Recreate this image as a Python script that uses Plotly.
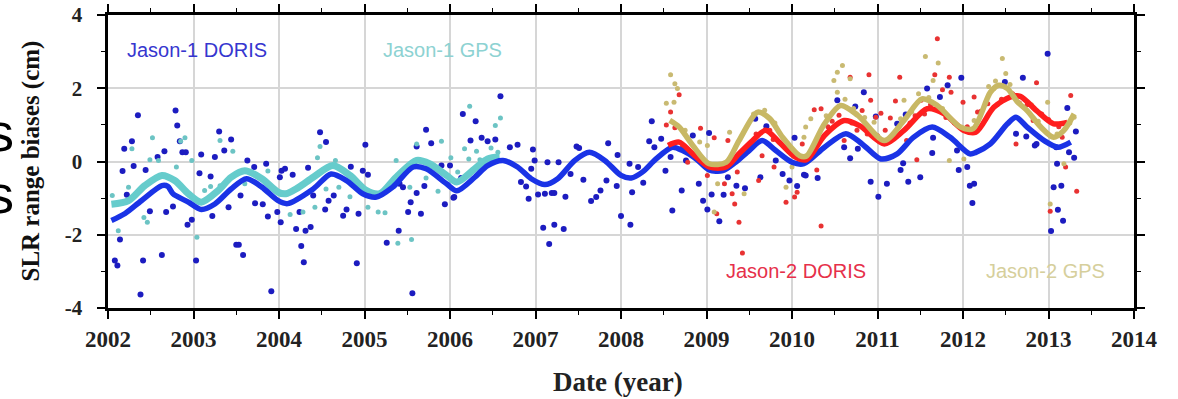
import plotly.graph_objects as go

# ---------------- data ----------------
j1d_x = [2002.35,2002.79,2002.81,2002.28,2002.19,2002.17,2002.30,2002.44,2002.58,2002.66,2002.84,2002.87,2002.91,
         2003.09,2003.07,2003.20,2003.30,2003.44,2003.36,2003.25,2003.63,2003.71,2003.85,2004.03,2002.22,2002.49,
         2002.68,2002.76,2002.93,2002.98,2003.22,2003.41,2003.55,2003.72,2003.81,2003.87,2003.98,2004.02,2002.14,
         2002.08,2002.11,2002.41,2002.63,2003.03,2003.50,2003.53,2003.58,2002.38,2003.91,
         2004.48,2004.55,2005.01,2005.72,2005.61,2005.78,2004.07,2004.01,2004.16,2004.34,2004.84,2004.98,2005.04,
         2004.64,2004.58,2004.54,2004.40,2004.75,2004.79,2004.93,2004.24,2004.20,2004.31,2004.37,2004.26,2004.29,
         2004.91,2005.26,2005.40,2005.56,2005.51,2005.66,2005.54,2005.61,2005.70,2005.94,2006.04,2005.90,2006.00,
         2005.41,2005.45,
         2006.59,2006.15,2006.30,2006.24,2006.37,2006.44,2006.53,2006.70,2006.79,2006.97,2006.99,2007.14,2007.27,
         2006.95,2006.83,2006.89,2006.92,2007.03,2007.11,2007.19,2007.22,2007.35,2007.09,2007.22,2007.33,2007.16,
         2007.48,2007.51,2007.41,2007.56,2007.65,2007.71,2007.76,2007.83,2007.85,2007.96,2008.10,2007.95,2008.00,
         2008.11,2008.13,2006.13,2006.05,
         2008.36,2008.33,2008.39,2008.47,2008.52,2008.20,2008.26,2008.60,2008.71,2008.84,2009.03,2008.91,2008.96,
         2009.01,2009.06,2009.15,2009.20,2009.25,2009.35,2009.45,2009.57,2009.70,2009.63,2009.89,2009.97,2010.06,
         2010.03,2010.16,2008.76,2008.58,2009.81,
         2010.53,2010.84,2010.74,2010.98,2011.23,2011.33,2011.58,2011.82,2011.98,2011.73,2010.61,2010.68,2010.77,
         2010.14,2010.30,2010.92,2011.01,2011.11,2011.27,2011.30,2011.36,2011.50,2011.64,2011.65,2011.95,2012.05,
         2012.08,2012.11,2011.93,
         2012.99,2012.70,2012.49,2013.22,2013.32,2012.62,2012.74,2012.84,2013.09,2013.24,2013.30,2013.10,2013.06,
         2013.15,2013.11,2013.17,2013.03,2012.13,2012.86]
j1d_y = [1.26,1.39,0.98,0.55,0.35,-0.26,-0.12,-0.23,0.12,0.28,0.55,0.25,0.25,
         0.19,-0.32,-0.41,0.82,0.60,0.30,0.12,0.03,-0.15,-0.06,-0.25,-0.91,-1.36,
         -1.38,-1.23,-1.73,-1.59,-1.49,-1.25,-0.93,-1.14,-1.17,-1.50,-1.38,-1.66,-2.13,
         -2.70,-2.84,-2.70,-2.55,-2.70,-2.27,-2.27,-2.55,-3.63,-3.54,
         0.80,0.53,0.46,0.87,0.41,0.50,-0.20,-0.43,-0.36,-0.17,-0.14,-0.25,-0.36,
         -0.93,-1.07,-1.31,-0.93,-1.48,-1.31,-1.43,-1.38,-1.84,-1.89,-1.79,-2.31,-2.75,
         -2.78,-2.22,-1.89,-3.60,-1.38,-1.43,-1.11,-0.86,-0.67,-1.17,-0.99,-0.11,-0.11,
         -0.61,-0.70,
         1.78,1.30,1.10,0.57,0.65,0.55,0.60,0.39,0.46,0.33,0.03,-0.02,-0.02,
         -0.20,-0.56,-0.68,-1.02,-0.90,-0.88,-0.86,-0.86,-0.96,-1.81,-1.73,-1.84,-2.25,
         0.41,0.37,-0.34,-0.50,-1.08,-0.97,-0.79,-0.52,0.50,0.18,-0.06,-0.67,-1.49,
         -1.73,-0.84,-0.45,-0.97,
         1.10,0.55,0.39,0.62,-0.25,-0.15,-0.58,-1.34,-0.79,0.71,0.78,-0.61,-1.07,
         -1.31,-0.90,-1.63,-0.91,-0.43,-0.66,-0.73,1.17,0.96,-0.43,-0.34,-0.52,-0.67,
         0.65,-0.38,0.03,0.12,0.03,
         1.67,1.89,1.50,1.23,1.03,1.28,1.99,2.08,2.29,1.76,0.39,0.09,0.35,
         -0.36,-0.45,-0.55,-0.96,-0.61,-0.23,-0.05,-0.55,-0.43,0.23,0.65,-0.23,-0.15,
         -0.66,-1.13,0.30,
         2.94,2.29,2.17,1.46,0.82,0.76,0.68,0.44,0.39,0.25,0.10,-0.06,-0.70,
         -0.66,-1.32,-1.62,-1.90,-0.61,0.48]

j1g_x = [2002.52,2002.28,2002.49,2002.59,2002.80,2002.90,2002.85,2002.98,2003.46,2003.31,2002.24,2002.42,2002.46,
         2002.12,2003.04,2003.13,2003.20,2003.31,2003.60,2003.87,2002.05,2004.48,2004.45,2004.66,2005.37,2005.61,
         2005.90,2006.01,2004.55,2004.70,2004.83,2004.42,2004.28,2004.13,2005.04,2005.16,2005.24,2005.39,2005.55,
         2005.72,2005.86,2005.53,2006.23,2006.59,2006.53,2006.17,2006.31,2006.22,2006.48,2006.35,2006.09,2006.56]
j1g_y = [0.65,0.35,0.05,0.03,-0.15,0.65,0.55,0.03,0.28,0.57,-0.70,-1.53,-1.66,
         -1.89,-2.07,-0.79,-0.68,-0.66,-0.61,-0.26,-0.93,0.41,0.10,0.03,0.03,0.48,
         0.55,0.10,-0.75,-0.70,-0.96,-1.25,-1.38,-1.45,-1.25,-1.38,-1.40,-2.23,-2.13,
         -0.45,-0.81,-0.70,1.51,1.19,0.98,0.35,0.28,0.07,0.37,0.05,-0.29,0.25]

j2d_x = [2008.68,2008.58,2008.53,2008.63,2008.93,2009.09,2009.25,2008.78,2009.01,2009.21,2009.30,2009.33,2009.12,
         2009.38,2009.42,2009.36,2009.65,2009.61,2009.79,2009.93,2010.03,2010.06,2010.12,2009.74,2011.70,2010.90,
         2010.68,2011.26,2011.67,2011.84,2010.92,2011.21,2010.82,2010.98,2011.15,2010.26,2010.34,2010.55,2011.51,
         2011.86,2012.00,2012.13,2012.17,2010.61,2010.29,2010.34,2011.46,2011.34,2011.09,2011.04,2011.76,2012.86,
         2013.26,2012.62,2013.02,2013.33,2013.20,2012.21,2012.29,2012.82,2013.16,
         2010.42,2010.47,2010.70,2010.76,2010.88,2011.00,2011.12,2011.38,2011.44,2011.55,2011.62,2011.80,2011.90,
         2012.05,2012.40,2012.45,2012.58,2012.66,2012.75,2012.92,2013.00,2013.12,2009.50,2009.58,2008.72,2009.78]
j2d_y = [1.82,1.35,1.00,0.92,0.91,0.65,0.57,-0.02,-0.38,-0.61,-0.88,-1.16,-1.43,
         -1.66,-2.50,-0.29,0.16,-0.52,-0.15,-1.11,-0.97,-0.84,0.48,0.85,3.35,2.37,
         2.30,2.30,2.37,2.30,1.67,1.65,1.39,1.21,1.19,1.41,1.44,1.26,1.67,
         1.89,1.62,1.76,1.35,0.57,-0.23,-1.76,0.05,0.57,0.85,1.32,1.96,2.15,
         1.80,0.48,-1.36,-0.81,-0.15,1.37,1.58,1.12,0.66,
         0.95,1.10,1.05,0.85,0.75,0.70,0.55,1.05,1.25,1.30,1.55,1.20,1.05,
         0.95,1.55,1.70,1.85,1.60,1.55,1.30,1.15,0.95,0.45,0.75,0.40,0.60]

j2g_x = [2008.58,2008.63,2008.66,2008.53,2008.62,2008.92,2009.01,2009.27,2009.13,2009.09,2009.44,2010.16,2010.00,
         2009.93,2010.59,2010.53,2010.68,2010.49,2010.53,2010.22,2011.56,2011.71,2011.65,2011.31,2010.96,2011.27,
         2011.84,2012.01,2010.14,2012.13,2012.46,2012.50,2012.99,2013.02,2013.18,2013.30,2012.36,
         2010.40,2010.62,2010.72,2010.85,2011.40,2011.48,2011.60,2011.76,2012.30,2012.38,2012.55,2012.62,2012.80,
         2012.88,2013.10,2013.25,2009.55,2009.68,2009.80,2008.75]
j2g_y = [2.37,2.12,1.99,1.59,1.62,0.53,0.44,0.80,-0.61,-1.38,-0.88,0.94,-0.15,
         -0.70,2.62,2.44,2.26,2.21,1.89,1.17,2.87,2.69,2.21,1.67,1.07,1.17,
         0.03,0.07,0.66,1.12,2.81,2.40,1.62,-1.16,-0.06,1.21,1.99,
         1.25,1.70,1.45,1.20,1.35,1.85,1.75,1.45,2.05,2.20,2.10,1.80,1.55,
         1.10,0.75,1.05,1.30,1.40,1.05,0.85]

# smoothed curves
j1d_fit_x = [2002.04,2002.20,2002.39,2002.63,2002.70,2002.76,2002.94,2003.09,2003.25,2003.44,2003.62,2003.80,2003.99,
             2004.10,2004.40,2004.61,2004.79,2004.98,2005.14,2005.33,2005.57,2005.72,2005.96,2006.08,2006.29,2006.44,
             2006.62,2006.79,2006.95,2007.11,2007.26,2007.46,2007.63,2007.81,2008.00,2008.12,2008.25,2008.41,2008.60,
             2008.72,2008.88,2009.03,2009.19,2009.34,2009.50,2009.65,2009.81,2010.00,2010.14,2010.38,2010.63,2010.82,
             2011.04,2011.23,2011.42,2011.64,2011.85,2012.08,2012.15,2012.32,2012.52,2012.62,2012.75,2012.95,2013.11,2013.26]
j1d_fit_y = [-1.61,-1.42,-1.07,-0.66,-0.68,-0.88,-1.11,-1.31,-1.16,-0.75,-0.47,-0.70,-1.07,
             -1.15,-0.75,-0.34,-0.52,-0.88,-0.97,-0.70,-0.15,-0.20,-0.61,-0.80,-0.43,-0.11,
             0.03,-0.15,-0.47,-0.63,-0.47,0.03,0.25,0.03,-0.38,-0.45,-0.29,0.07,0.39,
             0.30,0.07,-0.23,-0.25,-0.02,0.30,0.57,0.30,-0.02,-0.06,0.39,0.76,0.48,
             0.07,0.21,0.66,0.94,0.66,0.21,0.25,0.48,1.03,1.21,0.94,0.57,0.39,0.53]

j1g_fit_x = [2002.04,2002.24,2002.43,2002.63,2002.78,2002.94,2003.09,2003.29,2003.44,2003.60,2003.80,2003.99,2004.08,
             2004.22,2004.40,2004.63,2004.83,2005.02,2005.18,2005.37,2005.61,2005.76,2005.96,2006.08,2006.29,2006.44,2006.58]
j1g_fit_y = [-1.17,-1.07,-0.66,-0.38,-0.52,-0.88,-1.11,-0.79,-0.43,-0.25,-0.47,-0.84,-0.88,
             -0.72,-0.43,-0.11,-0.38,-0.79,-0.88,-0.43,0.03,-0.06,-0.38,-0.56,-0.20,0.07,0.12]

j2d_fit_x = [2008.55,2008.68,2008.84,2009.03,2009.23,2009.38,2009.54,2009.69,2009.85,2010.04,2010.17,2010.38,2010.61,
             2010.79,2011.08,2011.31,2011.58,2011.78,2012.01,2012.15,2012.36,2012.55,2012.67,2012.86,2013.06,2013.22]
j2d_fit_y = [0.44,0.53,0.21,-0.15,-0.15,0.21,0.57,0.85,0.53,0.12,0.05,0.71,1.12,
             0.98,0.48,0.85,1.44,1.30,0.85,0.80,1.48,1.76,1.78,1.39,1.03,1.07]

j2g_fit_x = [2008.57,2008.68,2008.84,2009.03,2009.23,2009.38,2009.60,2009.74,2009.89,2010.09,2010.17,2010.38,2010.57,
             2010.77,2011.08,2011.31,2011.52,2011.70,2011.97,2012.12,2012.32,2012.42,2012.52,2012.64,2012.75,2012.91,
             2013.06,2013.18,2013.30]
j2g_fit_y = [1.12,0.94,0.44,-0.06,-0.02,0.57,1.35,1.17,0.66,0.16,0.15,1.03,1.53,
             1.26,0.57,1.12,1.71,1.53,0.94,0.90,1.89,2.08,1.99,1.62,1.39,0.94,
             0.66,0.85,1.30]

x_tick_vals = [2002, 2003, 2004, 2005, 2006, 2007, 2008, 2009, 2010, 2011, 2012, 2013, 2014]
x_tick_text = ["2002", "2003", "2004", "2005", "2006", "2007", "2008", "2009", "2010", "2011", "2012", "2013", "2014"]
y_tick_vals = [-4, -2, 0, 2, 4]
y_tick_text = ["-4", "-2", "0", "2", "4"]

series_labels = ["Jason-1 DORIS", "Jason-1 GPS", "Jason-2 DORIS", "Jason-2 GPS"]

# ---------------- figure ----------------
C_J1D_PT, C_J1D_LN, C_J1D_TX = "#1c1cc0", "#1a33e6", "#3636cf"
C_J1G_PT, C_J1G_LN, C_J1G_TX = "#6cc4c4", "#66cccc", "#8dd2d2"
C_J2D_PT, C_J2D_LN, C_J2D_TX = "#e83232", "#ff1e1e", "#e6304a"
C_J2G_PT, C_J2G_LN, C_J2G_TX = "#c9ba72", "#c8b864", "#d6cf9c"

fig = go.Figure()

def pts(x, y, color, size):
    fig.add_trace(go.Scatter(x=x, y=y, mode="markers",
                             marker=dict(color=color, size=size, line=dict(width=0)),
                             showlegend=False, hoverinfo="skip", cliponaxis=True))

def fit(x, y, color, width):
    fig.add_trace(go.Scatter(x=x, y=y, mode="lines",
                             line=dict(color=color, width=width, shape="spline", smoothing=0.8),
                             showlegend=False, hoverinfo="skip"))

pts(j1d_x, j1d_y, C_J1D_PT, 6)
pts(j1g_x, j1g_y, C_J1G_PT, 5)
pts(j2d_x, j2d_y, C_J2D_PT, 5)
pts(j2g_x, j2g_y, C_J2G_PT, 5)
fit(j1g_fit_x, j1g_fit_y, C_J1G_LN, 7)
fit(j1d_fit_x, j1d_fit_y, C_J1D_LN, 5.5)
fit(j2d_fit_x, j2d_fit_y, C_J2D_LN, 5.5)
fit(j2g_fit_x, j2g_fit_y, C_J2G_LN, 5.5)

serif = "Liberation Serif, Times New Roman, serif"
sans = "Liberation Sans, Arial, sans-serif"

ann = []
for txt, x, y, col in [(series_labels[0], 2003.04, 3.05, C_J1D_TX),
                       (series_labels[1], 2005.91, 3.05, C_J1G_TX),
                       (series_labels[2], 2010.05, -3.0, C_J2D_TX),
                       (series_labels[3], 2012.97, -3.0, C_J2G_TX)]:
    ann.append(dict(x=x, y=y, xref="x", yref="y", text=txt, showarrow=False,
                    font=dict(family=sans, size=20, color=col)))

ann.append(dict(x=0.497, y=-0.253, xref="paper", yref="paper", xanchor="center", yanchor="middle",
                text="<b>Date (year)</b>", showarrow=False,
                font=dict(family=serif, size=27, color="#222222")))
ann.append(dict(x=-0.076, y=0.5, xref="paper", yref="paper", xanchor="center", yanchor="middle",
                textangle=-90, text="<b>SLR range biases (cm)</b>", showarrow=False,
                font=dict(family=serif, size=25, color="#111111")))
# partial slide text visible at the left edge
ann.append(dict(x=-0.090, y=0.60, xref="paper", yref="paper", xanchor="right", yanchor="middle",
                text="s", showarrow=False, font=dict(family=sans, size=54, color="black")))
ann.append(dict(x=-0.090, y=0.39, xref="paper", yref="paper", xanchor="right", yanchor="middle",
                text="s", showarrow=False, font=dict(family=sans, size=54, color="black")))

axis_common = dict(showline=True, linecolor="black", linewidth=3, mirror="allticks",
                   ticks="outside", tickcolor="black", tickwidth=1.5, ticklen=8,
                   showgrid=True, gridcolor="#d6d6d6", gridwidth=1.5, zeroline=False,
                   automargin=False)

# y labels sit a little further from the axis: pad them with non-breaking spaces
y_tick_labels_padded = [t + "\u00a0\u00a0" for t in y_tick_text]

fig.update_layout(
    width=1178, height=399,
    margin=dict(l=108, r=44, t=15, b=91),
    paper_bgcolor="white", plot_bgcolor="white",
    xaxis=dict(range=[2002, 2014], tickvals=x_tick_vals, ticktext=x_tick_text,
               tickfont=dict(family=serif, size=23, color="#222222", weight="bold"),
               ticklabelstandoff=0,
               minor=dict(dtick=0.5, tick0=2002, ticks="outside", ticklen=4, tickcolor="black",
                          tickwidth=1, showgrid=False),
               **axis_common),
    yaxis=dict(range=[-4, 4], tickvals=y_tick_vals, ticktext=y_tick_labels_padded,
               tickfont=dict(family=serif, size=21, color="#222222", weight="bold"),
               ticklabelstandoff=0,
               minor=dict(dtick=1, tick0=0, ticks="outside", ticklen=4, tickcolor="black",
                          tickwidth=1, showgrid=False),
               **axis_common),
    annotations=ann,
)

# remove the default 8px page margin so the figure fills the window exactly
fig.write_html("out.html", config={"displayModeBar": False},
               post_script="document.body.style.margin='0px';")
